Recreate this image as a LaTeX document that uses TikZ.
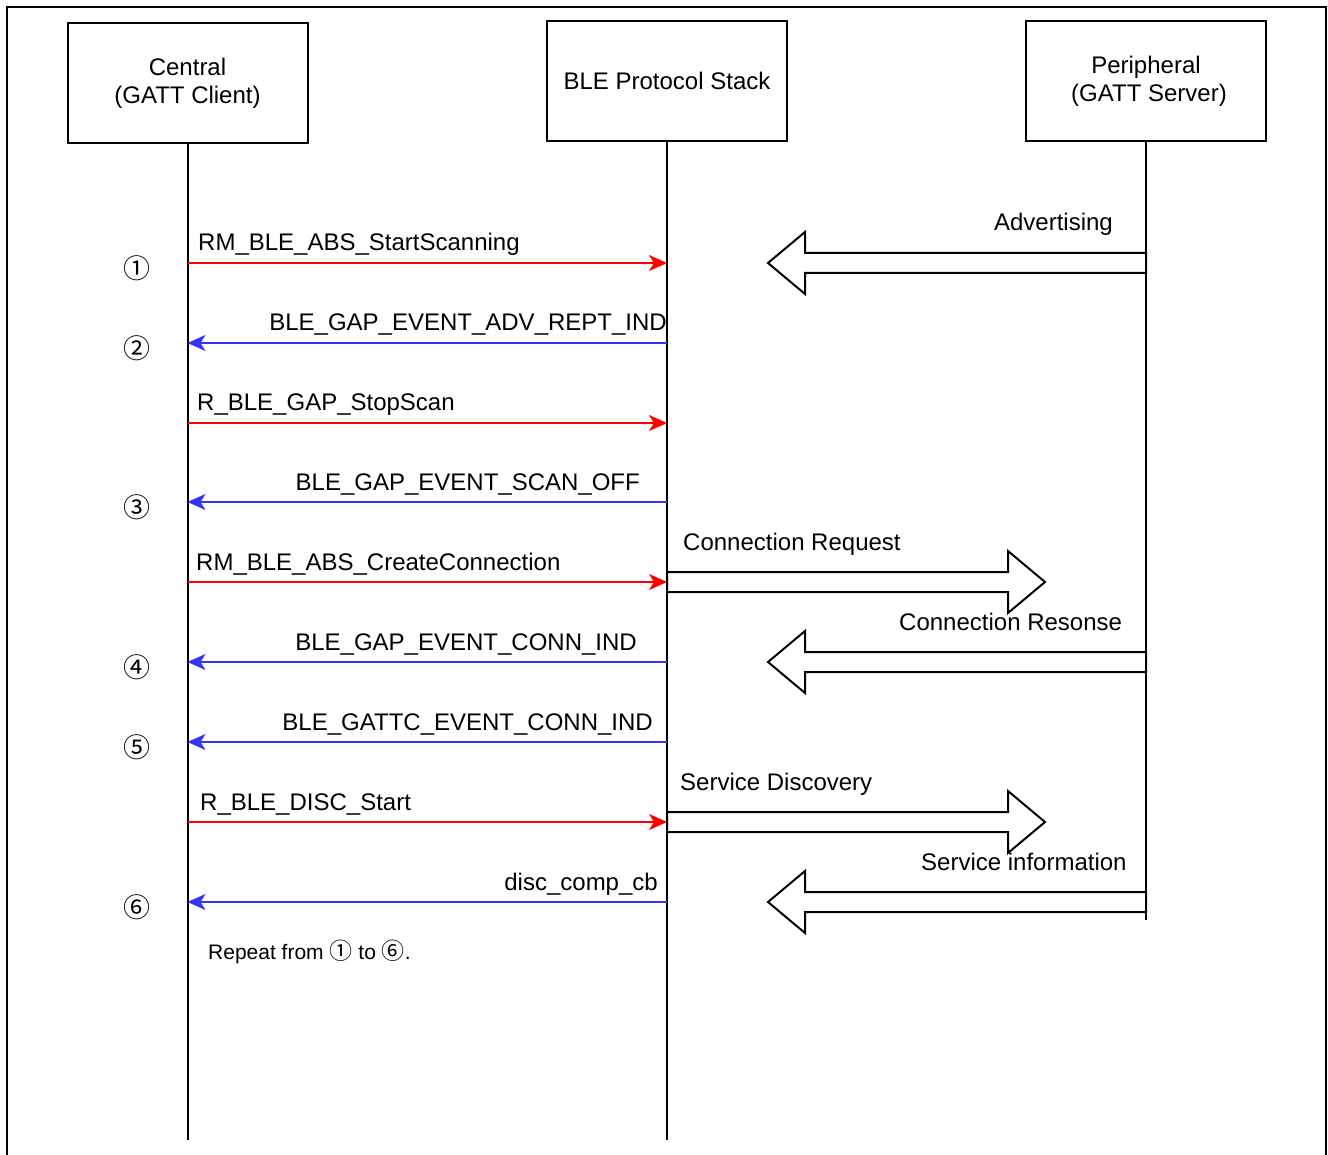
\documentclass[tikz,border=0pt]{standalone}
\usepackage{fontspec}
\setmainfont{Liberation Sans}
\newfontfamily\circfont{Noto Sans CJK JP}
\usetikzlibrary{arrows.meta,calc}
\definecolor{reqred}{RGB}{255,0,0}
\definecolor{evtblue}{RGB}{51,51,255}

\begin{document}
\begin{tikzpicture}[x=1pt,y=-1pt,
  txt/.style={font=\fontsize{24}{28}\selectfont, inner sep=0pt},
  actor/.style={draw, line width=2pt, minimum width=240pt, minimum height=120pt,
    align=center, font=\fontsize{24}{28}\selectfont, inner sep=0pt},
  life/.style={line width=2pt},
  req/.style={draw=reqred, line width=1.8pt,
    -{Stealth[length=18pt,width=16pt,inset=5pt,fill=reqred]}},
  evt/.style={draw=evtblue, line width=1.8pt,
    -{Stealth[length=18pt,width=16pt,inset=5pt,fill=evtblue]}},
  fat/.style={draw, line width=2pt, fill=white, line join=miter},
  stepno/.style={font=\circfont\fontsize{27}{30}\selectfont, inner sep=0pt},
]
\useasboundingbox (0,0) rectangle (1328,1155);

% open frame (its bottom edge lies outside the page)
\draw[line width=2.6pt] (7,1160) -- (7,7) -- (1326,7) -- (1326,1160);

% participants
\node[actor] (central) at (187.5,83) {Central\\(GATT Client)};
\node[actor] (stack)   at (667,81)   {BLE Protocol Stack};
\node[actor] (periph)  at (1146,81)  {Peripheral\\\hspace*{6pt}(GATT Server)};

% lifelines
\coordinate (cend) at (187.5,1140);
\coordinate (send) at (667,1140);
\coordinate (pend) at (1146,920);
\draw[life] (central.south) -- (cend);
\draw[life] (stack.south) -- (send);
\draw[life] (periph.south) -- (pend);

% message anchors on the lifelines
\foreach \n/\y in {1/263,2/343,3/423,4/502,5/582,6/662,7/742,8/822,9/902}{
  \coordinate (c\n) at (187.5,\y);
  \coordinate (s\n) at (667,\y);
}
\foreach \n/\y in {a/263,b/582,c/662,d/822,e/902}{
  \coordinate (p\n) at (1146,\y);
  \coordinate (q\n) at (667,\y);
}

% calls and events between central and stack
\draw[req] (c1) -- (s1);
\draw[evt] (s2) -- (c2);
\draw[req] (c3) -- (s3);
\draw[evt] (s4) -- (c4);
\draw[req] (c5) -- (s5);
\draw[evt] (s6) -- (c6);
\draw[evt] (s7) -- (c7);
\draw[req] (c8) -- (s8);
\draw[evt] (s9) -- (c9);

\node[txt, anchor=base west] (l1) at (198,251) {RM\_BLE\_ABS\_StartScanning};
\node[txt, anchor=base east] (l2) at (667,331) {BLE\_GAP\_EVENT\_ADV\_REPT\_IND};
\node[txt, anchor=base west] (l3) at (197,410) {R\_BLE\_GAP\_StopScan};
\node[txt, anchor=base east] (l4) at (640,490) {BLE\_GAP\_EVENT\_SCAN\_OFF};
\node[txt, anchor=base west] (l5) at (196,570) {RM\_BLE\_ABS\_CreateConnection};
\node[txt, anchor=base east] (l6) at (637,650) {BLE\_GAP\_EVENT\_CONN\_IND};
\node[txt, anchor=base east] (l7) at (653,730) {BLE\_GATTC\_EVENT\_CONN\_IND};
\node[txt, anchor=base west] (l8) at (200,810) {R\_BLE\_DISC\_Start};
\node[txt, anchor=base east] (l9) at (658,890) {disc\_comp\_cb};

% step numbers
\node[stepno] (n1) at (137,268) {①};
\node[stepno] (n2) at (137,348) {②};
\node[stepno] (n3) at (137,507) {③};
\node[stepno] (n4) at (137,667) {④};
\node[stepno] (n5) at (137,747) {⑤};
\node[stepno] (n6) at (137,907) {⑥};

\node[anchor=base west, inner sep=0pt, font=\fontsize{21}{25}\selectfont] (rep) at (208,959)
  {Repeat from {\circfont\fontsize{23}{25}\selectfont ①} to {\circfont\fontsize{23}{25}\selectfont ⑥}.};

% air traffic between stack and peripheral (hollow block arrows)
\newcommand{\leftblock}[1]{%
  \draw[fat] (#1) ++(0,-10) -- ++(-341,0) -- ++(0,-21) -- ++(-37,31)
    -- ++(37,31) -- ++(0,-21) -- ++(341,0) -- cycle;}
\newcommand{\rightblock}[1]{%
  \draw[fat] (#1) ++(0,-10) -- ++(341,0) -- ++(0,-21) -- ++(37,31)
    -- ++(-37,31) -- ++(0,-21) -- ++(-341,0) -- cycle;}

\leftblock{pa}
\rightblock{qb}
\leftblock{pc}
\rightblock{qd}
\leftblock{pe}

\node[txt, anchor=base east] (ta) at (1113,231) {Advertising};
\node[txt, anchor=base west] (tb) at (683,550) {Connection Request};
\node[txt, anchor=base west] (tc) at (899,630) {Connection Resonse};
\node[txt, anchor=base west] (td) at (680,790) {Service Discovery};
\node[txt, anchor=base west] (te) at (921,870) {Service information};
\end{tikzpicture}
\end{document}
